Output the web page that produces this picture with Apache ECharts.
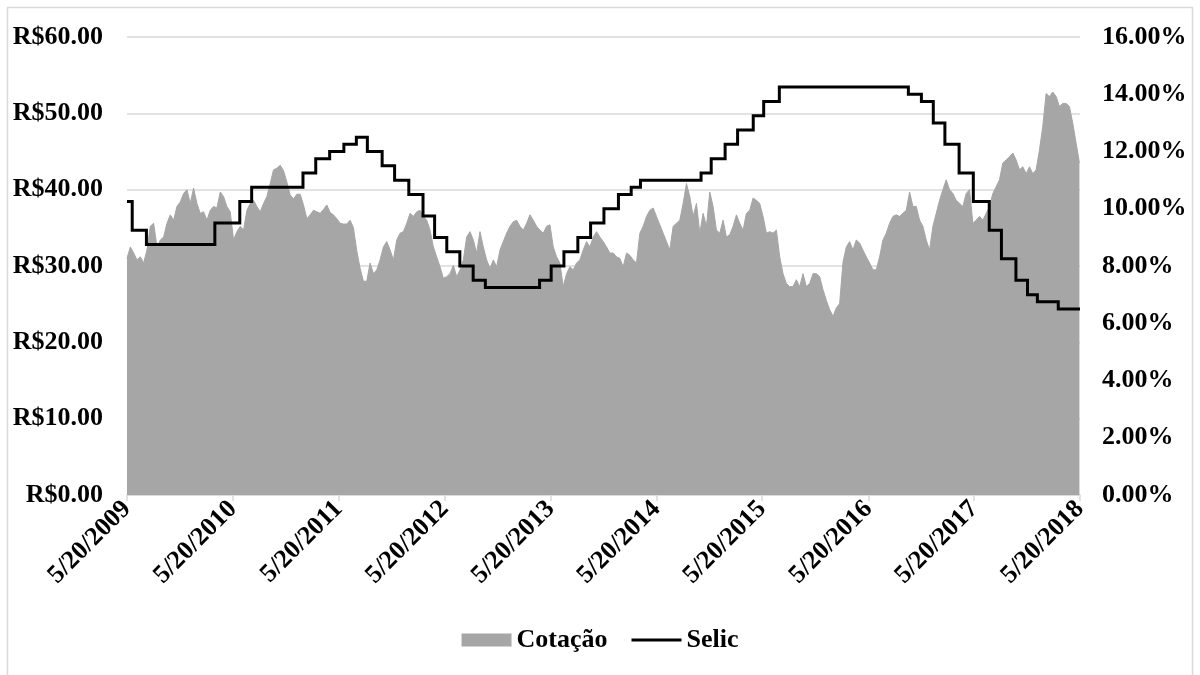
<!DOCTYPE html>
<html>
<head>
<meta charset="utf-8">
<script src="https://cdn.jsdelivr.net/npm/echarts@6/dist/echarts.min.js"></script>
<style>
  html, body { margin: 0; padding: 0; background: #ffffff; }
  #chart { width: 1200px; height: 675px; }
</style>
</head>
<body>
<div id="chart"></div>
<script>
// Yearly tick dates on the x axis
const yearTicks = ['2009-05-20', '2010-05-20', '2011-05-20', '2012-05-20', '2013-05-20',
                   '2014-05-20', '2015-05-20', '2016-05-20', '2017-05-20', '2018-05-20'];

// Share price (R$), sampled on an even grid between these two dates
const priceFirstDate = '2009-05-20';
const priceLastDate = '2018-05-18';
const cotacao = [
  31.0, 32.5, 31.7, 30.8, 31.2, 30.4, 32.1, 35.2, 35.6, 32.5, 33.4, 33.8, 35.6, 36.7, 36.0, 37.8,
  38.4, 39.5, 40.0, 38.2, 40.2, 38.2, 36.9, 37.1, 36.0, 37.3, 37.8, 37.6, 39.7, 39.1, 37.8, 37.1,
  33.4, 34.5, 35.2, 34.7, 37.3, 38.2, 38.6, 37.8, 37.1, 38.2, 39.1, 40.8, 42.6, 42.8, 43.2, 42.5,
  41.0, 39.3, 38.8, 39.4, 39.4, 38.0, 36.2, 36.7, 37.3, 37.1, 36.9, 37.4, 38.0, 37.0, 36.7, 36.2,
  35.6, 35.5, 35.5, 36.0, 35.0, 32.0, 29.7, 28.0,
  28.0, 30.4, 29.0, 29.5, 30.8, 32.5, 33.2, 32.1, 30.8, 33.4, 34.3, 34.5, 35.6, 36.9, 36.5, 37.1,
  37.3, 36.5, 36.0, 34.7, 32.5, 31.2, 29.9, 28.4, 28.6, 29.0, 30.1, 28.6, 29.5, 30.8, 33.8, 34.5,
  33.4, 31.7, 34.5, 32.5, 30.8, 29.7, 30.8, 29.9, 32.1, 33.2, 34.3, 35.2, 35.8, 36.0, 35.2, 34.7,
  35.6, 36.7, 36.0, 35.2, 34.7, 34.3, 35.2, 35.4, 32.5, 31.2, 30.4, 27.3, 29.0, 29.9, 29.5, 30.4,
  30.8, 32.1, 33.2, 32.5, 33.8, 34.5, 33.8, 33.2,
  32.5, 31.7, 31.7, 31.2, 31.0, 29.9, 31.7, 31.4, 30.8, 30.4, 34.3, 35.2, 36.5, 37.3, 37.6, 36.5,
  35.4, 34.3, 33.2, 32.1, 35.2, 35.6, 36.0, 38.2, 40.8, 39.1, 36.5, 38.2, 34.3, 36.9, 35.2, 39.7,
  37.8, 34.7, 34.3, 36.0, 33.8, 34.1, 35.2, 36.7, 35.6, 34.7, 36.9, 37.3, 38.9, 38.6, 38.2, 36.5,
  34.3, 34.5, 34.3, 34.7, 31.2, 29.0, 27.7, 27.3, 27.3, 28.2, 27.3, 29.0, 27.3, 27.7, 29.0, 29.0,
  28.6, 26.9, 25.5, 24.3, 23.4, 24.5, 25.1, 30.5,
  32.5, 33.2, 32.1, 33.4, 33.0, 32.1, 31.2, 30.4, 29.5, 29.5, 31.2, 33.4, 34.3, 35.6, 36.5, 36.7,
  36.5, 36.9, 37.3, 39.7, 37.8, 37.8, 36.0, 35.2, 33.4, 32.1, 35.2, 36.9, 38.6, 40.0, 41.3, 40.0,
  39.5, 38.6, 38.2, 37.8, 39.5, 40.0, 35.6, 36.0, 36.5, 36.0, 36.9, 37.8, 39.5, 40.4, 41.3, 43.5,
  43.9, 44.3, 44.8, 43.9, 42.6, 43.0, 42.1, 43.0, 42.1, 42.6, 45.2, 48.3, 52.6, 52.2, 52.8, 52.2,
  50.9, 51.3, 51.3, 50.9, 48.7, 46.1, 43.5
];

// Selic rate (% a.a.): date each rate took effect
const selicDates = [
  '2009-05-20', '2009-06-07', '2009-07-26', '2010-03-19', '2010-06-13', '2010-07-24',
  '2011-01-17', '2011-03-02', '2011-04-19', '2011-06-07', '2011-07-20', '2011-08-27',
  '2011-10-17', '2011-11-29', '2012-01-17', '2012-03-06', '2012-04-15', '2012-05-27',
  '2012-07-11', '2012-08-26', '2012-10-07', '2013-04-12', '2013-05-22', '2013-07-05',
  '2013-08-22', '2013-10-05', '2013-11-20', '2014-01-09', '2014-02-22', '2014-03-26',
  '2014-10-21', '2014-11-25', '2015-01-12', '2015-02-24', '2015-04-19', '2015-05-25',
  '2015-07-18', '2016-10-05', '2016-11-19', '2016-12-30', '2017-02-08', '2017-03-29',
  '2017-05-17', '2017-07-11', '2017-08-22', '2017-10-11', '2017-11-20', '2017-12-24',
  '2018-03-06', '2018-05-20'
];
const selicRates = [
  10.25, 9.25, 8.75, 9.50, 10.25, 10.75,
  11.25, 11.75, 12.00, 12.25, 12.50, 12.00,
  11.50, 11.00, 10.50, 9.75, 9.00, 8.50,
  8.00, 7.50, 7.25, 7.50, 8.00, 8.50,
  9.00, 9.50, 10.00, 10.50, 10.75, 11.00,
  11.25, 11.75, 12.25, 12.75, 13.25, 13.75,
  14.25, 14.00, 13.75, 13.00, 12.25, 11.25,
  10.25, 9.25, 8.25, 7.50, 7.00, 6.75,
  6.50, 6.50
];

const seriesNames = ['Cotação', 'Selic'];

function ts(s) {
  const p = s.split('-').map(Number);
  return new Date(p[0], p[1] - 1, p[2]).getTime();
}

const tickTs = yearTicks.map(ts);
const t0 = ts(priceFirstDate);
const t1 = ts(priceLastDate);
const priceData = cotacao.map((v, i) => [t0 + (t1 - t0) * i / (cotacao.length - 1), v]);
const selicData = selicDates.map((d, i) => [ts(d), selicRates[i]]);

const FONT = 'Liberation Serif';
const labelStyle = { fontFamily: FONT, fontWeight: 'bold', fontSize: 26, color: '#000000' };

const chart = echarts.init(document.getElementById('chart'), null, { renderer: 'canvas' });

chart.setOption({
  backgroundColor: '#ffffff',
  animation: false,
  graphic: [{
    type: 'rect',
    silent: true,
    shape: { x: 7.5, y: 7.5, width: 1185, height: 720 },
    style: { fill: null, stroke: '#d9d9d9', lineWidth: 1.5 }
  }],
  grid: { left: 127, right: 120, top: 37, bottom: 180, containLabel: false },
  legend: {
    left: 'center',
    top: 622,
    itemWidth: 50,
    itemHeight: 13,
    itemGap: 24,
    textStyle: { fontFamily: FONT, fontWeight: 'bold', fontSize: 26, color: '#000000' },
    data: [
      { name: seriesNames[0], icon: 'rect', itemStyle: { color: '#a6a6a6' } },
      { name: seriesNames[1], icon: 'path://M0,0H50V3H0Z', itemStyle: { color: '#000000' } }
    ]
  },
  xAxis: {
    type: 'value',
    min: tickTs[0],
    max: tickTs[tickTs.length - 1],
    splitLine: { show: false },
    axisLine: { show: true, lineStyle: { color: '#d9d9d9', width: 1.5 } },
    axisTick: { show: true, customValues: tickTs, length: 6, lineStyle: { color: '#d9d9d9', width: 1.5 } },
    axisLabel: Object.assign({
      customValues: tickTs,
      rotate: 45,
      margin: 10,
      formatter: function (v) {
        const d = new Date(v);
        return (d.getMonth() + 1) + '/' + d.getDate() + '/' + d.getFullYear();
      }
    }, labelStyle)
  },
  yAxis: [{
    type: 'value',
    min: 0, max: 60, interval: 10,
    axisLine: { show: false },
    axisTick: { show: false },
    splitLine: { show: true, lineStyle: { color: '#d9d9d9', width: 1.5 } },
    axisLabel: Object.assign({ margin: 24, formatter: v => 'R$' + v.toFixed(2) }, labelStyle)
  }, {
    type: 'value',
    min: 0, max: 16, interval: 2,
    axisLine: { show: false },
    axisTick: { show: false },
    splitLine: { show: false },
    axisLabel: Object.assign({ margin: 22, formatter: v => v.toFixed(2) + '%' }, labelStyle)
  }],
  series: [{
    name: seriesNames[0],
    type: 'line',
    yAxisIndex: 0,
    data: priceData,
    showSymbol: false,
    symbol: 'none',
    color: '#a6a6a6',
    lineStyle: { color: '#a6a6a6', width: 1 },
    areaStyle: { color: '#a6a6a6', opacity: 1 },
    z: 1
  }, {
    name: seriesNames[1],
    type: 'line',
    yAxisIndex: 1,
    step: 'end',
    data: selicData,
    showSymbol: false,
    symbol: 'none',
    color: '#000000',
    lineStyle: { color: '#000000', width: 3, join: 'miter', cap: 'butt' },
    z: 3
  }]
});
</script>
</body>
</html>
